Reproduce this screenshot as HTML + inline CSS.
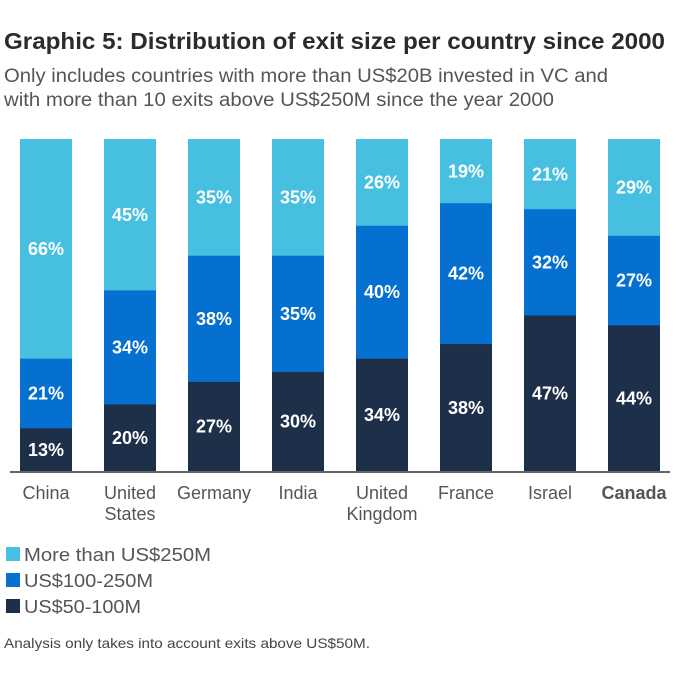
<!DOCTYPE html>
<html><head><meta charset="utf-8"><style>
body{margin:0;background:#fff;width:681px;height:680px;overflow:hidden;font-family:"Liberation Sans",Arial,sans-serif}
</style></head><body>
<svg id="s" width="681" height="680" xmlns="http://www.w3.org/2000/svg" font-family="Liberation Sans, Arial, sans-serif">
<text x="4" y="49" font-size="23" font-weight="bold" fill="#2b2b2b" textLength="661" lengthAdjust="spacingAndGlyphs">Graphic 5: Distribution of exit size per country since 2000</text>
<text x="4" y="82" font-size="19" fill="#555" textLength="604" lengthAdjust="spacingAndGlyphs">Only includes countries with more than US$20B invested in VC and</text>
<text x="4" y="106" font-size="19" fill="#555" textLength="550" lengthAdjust="spacingAndGlyphs">with more than 10 exits above US$250M since the year 2000</text>
<g id="bars"></g>
<line x1="10" y1="472" x2="670" y2="472" stroke="#666" stroke-width="2"/>
<g font-size="18" fill="#555" text-anchor="middle">
<text x="46" y="499">China</text>
<text x="130" y="499">United</text><text x="130" y="520">States</text>
<text x="214" y="499">Germany</text>
<text x="298" y="499">India</text>
<text x="382" y="499">United</text><text x="382" y="520">Kingdom</text>
<text x="466" y="499">France</text>
<text x="550" y="499">Israel</text>
<text x="634" y="499" font-weight="bold">Canada</text>
</g>
<rect x="6" y="547" width="14" height="14" fill="#47bfe0"/>
<text x="24" y="561" font-size="18" fill="#555" textLength="187" lengthAdjust="spacingAndGlyphs">More than US$250M</text>
<rect x="6" y="573" width="14" height="14" fill="#0570d0"/>
<text x="24" y="587" font-size="18" fill="#555" textLength="129" lengthAdjust="spacingAndGlyphs">US$100-250M</text>
<rect x="6" y="599" width="14" height="14" fill="#1e3049"/>
<text x="24" y="613" font-size="18" fill="#555" textLength="117" lengthAdjust="spacingAndGlyphs">US$50-100M</text>
<text x="4" y="648" font-size="14" fill="#444" textLength="366" lengthAdjust="spacingAndGlyphs">Analysis only takes into account exits above US$50M.</text>
</svg>
<script>
var d=[[13,21,66],[20,34,45],[27,38,35],[30,35,35],[34,40,26],[38,42,19],[47,32,21],[44,27,29]];
var c=["#1e3049","#0570d0","#47bfe0"],g=document.getElementById("bars"),h="";
d.forEach(function(v,i){var x=20+84*i,s=v[0]+v[1]+v[2],y=471;
v.forEach(function(p,j){var hh=p*332/s;y-=hh;
h+='<rect x="'+x+'" y="'+y+'" width="52" height="'+(hh+0.5)+'" fill="'+c[j]+'"/>';
h+='<text x="'+(x+26)+'" y="'+(y+hh/2+6.5)+'" font-size="18" font-weight="bold" fill="#fff" text-anchor="middle">'+p+'%</text>';});});
g.innerHTML=h;
</script>
</body></html>
